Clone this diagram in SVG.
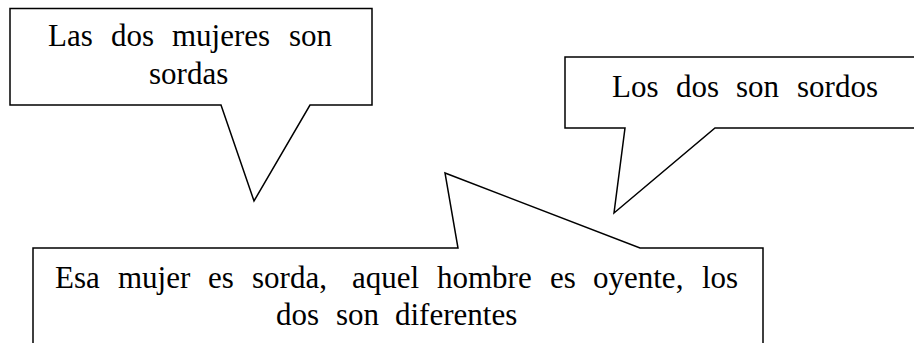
<svg xmlns="http://www.w3.org/2000/svg" width="914" height="343" viewBox="0 0 914 343">
<style>
.callout{fill:#fff;stroke:#000;stroke-width:1.5;stroke-linejoin:miter}
text{font-family:'Liberation Serif','Times New Roman',serif;font-size:31px;fill:#000}
</style>
<rect width="914" height="343" fill="#fff"/>
<g id="callout-mujeres">
<path class="callout" d="M10,8.5 H372 V105 H310 L254,201 L221,105 H10 Z"/>
<text y="46"><tspan x="48">Las</tspan><tspan x="111">dos</tspan><tspan x="172">mujeres</tspan><tspan x="289">son</tspan></text>
<text x="149" y="84">sordas</text>
</g>
<g id="callout-sordos">
<path class="callout" d="M565,57 H920 V128 H715 L614,213 L625,128 H565 Z"/>
<text y="97"><tspan x="612">Los</tspan><tspan x="676">dos</tspan><tspan x="736">son</tspan><tspan x="797">sordos</tspan></text>
</g>
<g id="callout-diferentes">
<path class="callout" d="M33,248 H458 L445,173 L640,248 H763 V360 H33 Z"/>
<text y="288"><tspan x="55">Esa</tspan><tspan x="118">mujer</tspan><tspan x="208">es</tspan><tspan x="252">sorda,</tspan><tspan x="352">aquel</tspan><tspan x="437">hombre</tspan><tspan x="550">es</tspan><tspan x="593">oyente,</tspan><tspan x="702">los</tspan></text>
<text y="325"><tspan x="276">dos</tspan><tspan x="336">son</tspan><tspan x="395">diferentes</tspan></text>
</g>
<g id="connectors"/>
</svg>
